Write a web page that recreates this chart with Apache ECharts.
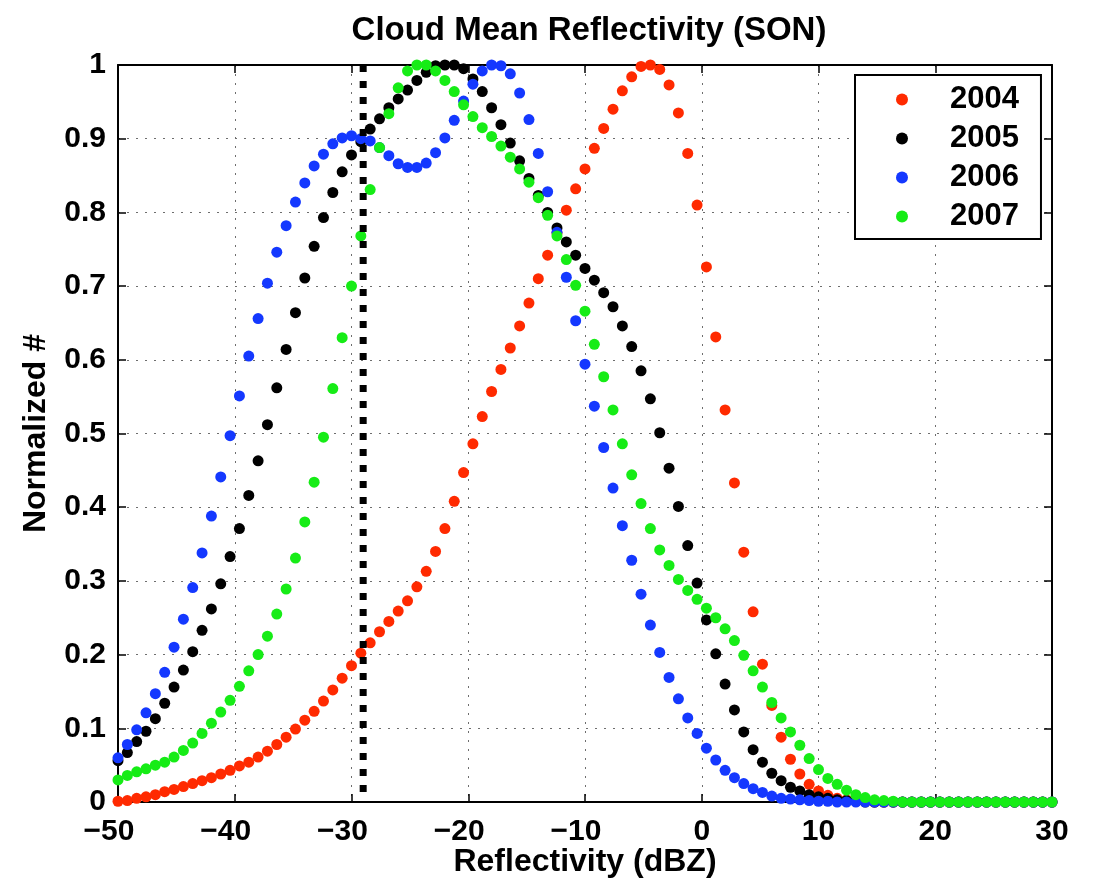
<!DOCTYPE html>
<html>
<head>
<meta charset="utf-8">
<title>Cloud Mean Reflectivity (SON)</title>
<script src="https://cdn.jsdelivr.net/npm/echarts@6/dist/echarts.min.js"></script>
<style>
  html, body { margin: 0; padding: 0; background: #fff; }
  #chart { width: 1099px; height: 881px; }
</style>
</head>
<body>
<div id="chart"></div>
<script>
// Reflectivity bin centres (dBZ)
const reflectivity = [
  -50, -49.2, -48.4, -47.6, -46.8, -46, -45.2, -44.4, -43.6, -42.8,
  -42, -41.2, -40.4, -39.6, -38.8, -38, -37.2, -36.4, -35.6, -34.8,
  -34, -33.2, -32.4, -31.6, -30.8, -30, -29.2, -28.4, -27.6, -26.8,
  -26, -25.2, -24.4, -23.6, -22.8, -22, -21.2, -20.4, -19.6, -18.8,
  -18, -17.2, -16.4, -15.6, -14.8, -14, -13.2, -12.4, -11.6, -10.8,
  -10, -9.2, -8.4, -7.6, -6.8, -6, -5.2, -4.4, -3.6, -2.8,
  -2, -1.2, -0.4, 0.4, 1.2, 2, 2.8, 3.6, 4.4, 5.2,
  6, 6.8, 7.6, 8.4, 9.2, 10, 10.8, 11.6, 12.4, 13.2,
  14, 14.8, 15.6, 16.4, 17.2, 18, 18.8, 19.6, 20.4, 21.2,
  22, 22.8, 23.6, 24.4, 25.2, 26, 26.8, 27.6, 28.4, 29.2,
  30
];

// Normalized counts per year
const y2004 = [
  0.001, 0.002, 0.005, 0.007, 0.010, 0.014, 0.017, 0.021, 0.025, 0.029,
  0.033, 0.038, 0.043, 0.049, 0.054, 0.061, 0.069, 0.078, 0.088, 0.099,
  0.111, 0.123, 0.137, 0.152, 0.168, 0.185, 0.202, 0.216, 0.231, 0.245,
  0.259, 0.273, 0.292, 0.313, 0.340, 0.371, 0.408, 0.447, 0.486, 0.523,
  0.557, 0.587, 0.616, 0.646, 0.677, 0.710, 0.742, 0.772, 0.803, 0.832,
  0.859, 0.887, 0.914, 0.940, 0.965, 0.984, 0.998, 1.000, 0.994, 0.973,
  0.935, 0.880, 0.810, 0.726, 0.631, 0.532, 0.433, 0.339, 0.258, 0.187,
  0.131, 0.088, 0.058, 0.038, 0.024, 0.015, 0.009, 0.005, 0.003, 0.002,
  0.001, 0, 0, 0, 0, 0, 0, 0, 0, 0,
  0, 0, 0, 0, 0, 0, 0, 0, 0, 0,
  0
];
const y2005 = [
  0.056, 0.067, 0.082, 0.096, 0.113, 0.134, 0.156, 0.179, 0.204, 0.233,
  0.262, 0.296, 0.333, 0.371, 0.416, 0.463, 0.512, 0.562, 0.614, 0.664,
  0.711, 0.754, 0.793, 0.827, 0.855, 0.878, 0.896, 0.913, 0.927, 0.942,
  0.954, 0.966, 0.979, 0.990, 0.999, 1.000, 1.000, 0.995, 0.981, 0.964,
  0.942, 0.919, 0.894, 0.870, 0.846, 0.823, 0.800, 0.779, 0.760, 0.742,
  0.724, 0.708, 0.691, 0.672, 0.646, 0.618, 0.585, 0.547, 0.501, 0.453,
  0.401, 0.348, 0.297, 0.247, 0.201, 0.160, 0.125, 0.095, 0.071, 0.054,
  0.039, 0.029, 0.020, 0.015, 0.010, 0.007, 0.005, 0.003, 0.002, 0.001,
  0, 0, 0, 0, 0, 0, 0, 0, 0, 0,
  0, 0, 0, 0, 0, 0, 0, 0, 0, 0,
  0
];
const y2006 = [
  0.060, 0.078, 0.098, 0.121, 0.147, 0.176, 0.210, 0.248, 0.291, 0.338,
  0.388, 0.441, 0.497, 0.551, 0.605, 0.656, 0.704, 0.746, 0.782, 0.814,
  0.840, 0.863, 0.879, 0.893, 0.901, 0.904, 0.900, 0.897, 0.888, 0.877,
  0.866, 0.861, 0.861, 0.867, 0.881, 0.901, 0.925, 0.951, 0.974, 0.992,
  1.000, 0.999, 0.988, 0.962, 0.926, 0.880, 0.828, 0.773, 0.712, 0.653,
  0.594, 0.537, 0.481, 0.426, 0.375, 0.328, 0.282, 0.240, 0.203, 0.169,
  0.140, 0.114, 0.093, 0.073, 0.057, 0.043, 0.033, 0.025, 0.018, 0.013,
  0.008, 0.005, 0.004, 0.003, 0.002, 0.001, 0.001, 0, 0, 0,
  0, 0, 0, 0, 0, 0, 0, 0, 0, 0,
  0, 0, 0, 0, 0, 0, 0, 0, 0, 0,
  0
];
const y2007 = [
  0.030, 0.036, 0.041, 0.045, 0.050, 0.054, 0.061, 0.070, 0.080, 0.093,
  0.107, 0.122, 0.138, 0.157, 0.178, 0.200, 0.225, 0.255, 0.289, 0.331,
  0.380, 0.434, 0.495, 0.561, 0.630, 0.700, 0.768, 0.831, 0.888, 0.934,
  0.969, 0.992, 1.000, 1.000, 0.992, 0.979, 0.964, 0.946, 0.930, 0.915,
  0.903, 0.890, 0.875, 0.859, 0.841, 0.820, 0.796, 0.768, 0.736, 0.701,
  0.666, 0.621, 0.577, 0.532, 0.486, 0.444, 0.405, 0.371, 0.342, 0.321,
  0.302, 0.287, 0.275, 0.263, 0.250, 0.235, 0.219, 0.199, 0.178, 0.156,
  0.135, 0.114, 0.095, 0.077, 0.059, 0.044, 0.032, 0.024, 0.016, 0.010,
  0.006, 0.003, 0.002, 0.001, 0, 0, 0, 0, 0, 0,
  0, 0, 0, 0, 0, 0, 0, 0, 0, 0,
  0
];

const years = ['2004', '2005', '2006', '2007'];
const yearValues = [y2004, y2005, y2006, y2007];
const yearColors = ['#ff2a00', '#000000', '#1438ff', '#16ec16'];

// Threshold reflectivity (dBZ) marked by the vertical dotted line
const thresholdDbz = -29;

const xTicks = [-50, -40, -30, -20, -10, 0, 10, 20, 30];
const yTicks = [0, 0.1, 0.2, 0.3, 0.4, 0.5, 0.6, 0.7, 0.8, 0.9, 1];

const FONT = '"Liberation Sans", Arial, Helvetica, sans-serif';

const chart = echarts.init(document.getElementById('chart'), null, { renderer: 'canvas' });

function pairs(values) {
  return values.map((v, i) => [reflectivity[i], v]);
}

const scatterSeries = years.map((name, i) => ({
  name: name,
  type: 'scatter',
  xAxisIndex: 0,
  yAxisIndex: 0,
  symbol: 'circle',
  symbolSize: 11,
  itemStyle: { color: yearColors[i], opacity: 1 },
  emphasis: { disabled: true },
  z: 2 + i,
  data: pairs(yearValues[i])
}));

const gridLine = { show: true, lineStyle: { color: '#6e6e6e', width: 1, type: [2, 7] } };

const option = {
  animation: false,
  backgroundColor: '#ffffff',
  graphic: [{
    type: 'text',
    x: 589,
    y: 14,
    style: {
      text: 'Cloud Mean Reflectivity (SON)',
      font: 'bold 33px ' + FONT,
      fill: '#000',
      textAlign: 'center',
      textVerticalAlign: 'top'
    }
  }],
  grid: { left: 118, right: 47, top: 65, bottom: 79, containLabel: false, outerBoundsMode: 'none' },
  legend: {
    data: years,
    orient: 'vertical',
    left: 855,
    top: 75,
    padding: [9, 22, 7, 41],
    itemGap: 8,
    itemWidth: 12,
    itemHeight: 12,
    icon: 'circle',
    backgroundColor: '#ffffff',
    borderColor: '#000000',
    borderWidth: 2,
    borderRadius: 0,
    selectedMode: false,
    textStyle: {
      fontFamily: FONT,
      fontWeight: 'bold',
      fontSize: 31,
      lineHeight: 31,
      color: '#000',
      padding: [0, 0, 0, 37]
    }
  },
  xAxis: [{
    type: 'value',
    position: 'bottom',
    min: -50,
    max: 30,
    interval: 10,
    name: 'Reflectivity (dBZ)',
    nameLocation: 'middle',
    nameGap: 44,
    nameMoveOverlap: false,
    nameTextStyle: { fontFamily: FONT, fontWeight: 'bold', fontSize: 32, color: '#000' },
    axisLine: { show: true, onZero: false, lineStyle: { color: '#000', width: 2 } },
    axisTick: { show: true, inside: true, length: 8, lineStyle: { color: '#000', width: 1.5 } },
    axisLabel: {
      margin: 15,
      fontFamily: FONT,
      fontWeight: 'bold',
      fontSize: 30,
      color: '#000',
      formatter: v => (v < 0 ? '{n|\u2212' + Math.abs(v) + '}' : String(v)),
      rich: {
        n: { fontFamily: FONT, fontWeight: 'bold', fontSize: 30, color: '#000', padding: [0, 18, 0, 0] }
      }
    },
    splitLine: gridLine
  }, {
    type: 'value',
    position: 'top',
    min: -50,
    max: 30,
    interval: 10,
    axisLine: { show: true, onZero: false, lineStyle: { color: '#000', width: 2 } },
    axisTick: { show: true, inside: true, length: 8, lineStyle: { color: '#000', width: 1.5 } },
    axisLabel: { show: false },
    splitLine: { show: false }
  }],
  yAxis: [{
    type: 'value',
    position: 'left',
    min: 0,
    max: 1,
    interval: 0.1,
    name: 'Normalized #',
    nameLocation: 'middle',
    nameGap: 66,
    nameMoveOverlap: false,
    nameTextStyle: { fontFamily: FONT, fontWeight: 'bold', fontSize: 32, color: '#000' },
    axisLine: { show: true, onZero: false, lineStyle: { color: '#000', width: 2 } },
    axisTick: { show: true, inside: true, length: 8, lineStyle: { color: '#000', width: 1.5 } },
    axisLabel: {
      margin: 12,
      fontFamily: FONT,
      fontWeight: 'bold',
      fontSize: 30,
      color: '#000',
      formatter: v => (v === 0 ? '0' : v === 1 ? '1' : v.toFixed(1))
    },
    splitLine: gridLine
  }, {
    type: 'value',
    position: 'right',
    min: 0,
    max: 1,
    interval: 0.1,
    axisLine: { show: true, onZero: false, lineStyle: { color: '#000', width: 2 } },
    axisTick: { show: true, inside: true, length: 8, lineStyle: { color: '#000', width: 1.5 } },
    axisLabel: { show: false },
    splitLine: { show: false }
  }],
  series: scatterSeries.concat([{
    name: 'threshold',
    type: 'line',
    xAxisIndex: 0,
    yAxisIndex: 0,
    symbol: 'none',
    silent: true,
    z: 10,
    lineStyle: { color: '#000', width: 7, type: [7, 9], cap: 'butt' },
    data: [[thresholdDbz, yTicks[yTicks.length - 1]], [thresholdDbz, yTicks[0]]]
  }])
};

chart.setOption(option);
</script>
</body>
</html>
